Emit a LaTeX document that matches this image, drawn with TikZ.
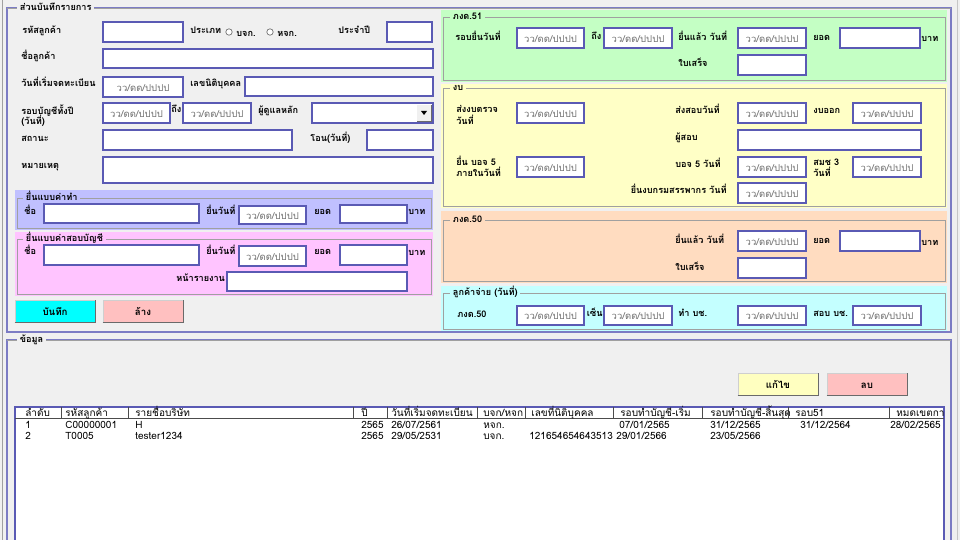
\documentclass[tikz,border=0pt]{standalone}
\usepackage{fontspec}
\setmainfont[Script=Thai]{Loma}
\usetikzlibrary{fit}

\definecolor{winbg}{HTML}{F0F0F0}
\definecolor{frameline}{HTML}{A0A0A0}
\definecolor{edgeline}{HTML}{7C7CC4}
\definecolor{fieldline}{HTML}{5A5AB4}
\definecolor{hintgray}{HTML}{707070}
\definecolor{paneltax}{HTML}{C0C0FF}
\definecolor{panelaudit}{HTML}{FFC4FF}
\definecolor{panelgreen}{HTML}{C4FFC4}
\definecolor{panelyellow}{HTML}{FFFFC6}
\definecolor{panelpeach}{HTML}{FFDCC0}
\definecolor{panelcyan}{HTML}{C4FFFF}
\definecolor{btncyan}{HTML}{00FFFF}
\definecolor{btnpink}{HTML}{FFC0C0}
\definecolor{btnyellow}{HTML}{FFFFC0}
\definecolor{btnshade}{HTML}{6A6A6A}

\begin{document}
\begin{tikzpicture}[x=0.02cm, y=-0.02cm,
    every node/.style={inner sep=0pt, text height=5.6pt, text depth=1pt,
      font=\fontsize{5.5}{6.6}\selectfont},
    lbl/.style={anchor=west, font=\fontsize{5.2}{6.2}\selectfont\bfseries},
    gtitle/.style={anchor=west, inner xsep=1.5pt, text height=4pt, text depth=1pt,
      font=\fontsize{5.2}{6.2}\selectfont\bfseries},
    hint/.style={text=hintgray, font=\fontsize{5.4}{6.4}\selectfont},
    field/.style={draw=fieldline, fill=white, line width=0.6pt},
    datebox/.style={field, label={[hint]center:วว/ดด/ปปปป}},
    gframe/.style={draw=frameline, line width=0.5pt},
    btn/.style={draw=frameline!50, line width=0.5pt},
    btntext/.style={font=\fontsize{5.5}{6.6}\selectfont\bfseries},
    cell/.style={anchor=west, font=\fontsize{5.7}{6.8}\selectfont},
    radio/.style={draw=black!55, fill=white, line width=0.4pt}]

  % window
  \fill[winbg] (0,0) rectangle (960,540);
  \useasboundingbox (0,0) rectangle (960,540);
  \draw[frameline, line width=0.4pt] (2,0) -- (2,540);
  \draw[frameline!60, line width=0.4pt] (957,0) -- (957,540);

  % upper group: ส่วนบันทึกรายการ
  \draw[edgeline, line width=0.6pt] (7,8) rectangle (951,332);
  \draw[frameline, line width=0.5pt] (7,8) -- (951,8);
  \node[gtitle, fill=winbg] (recordtitle) at (17,8) {ส่วนบันทึกรายการ};

  \node[lbl] (custcodelbl) at (22,29) {รหัสลูกค้า};
  \node[field, fit={(103,22) (183,42)}] (custcode) {};
  \node[lbl] (typelbl) at (190,29) {ประเภท};
  \draw[radio] (229,32) circle (3.2);
  \node[lbl] (typeco) at (236,32) {บจก.};
  \draw[radio] (270,32) circle (3.2);
  \node[lbl] (typepart) at (277,32) {หจก.};
  \node[lbl] (yearlbl) at (338,29) {ประจำปี};
  \node[field, fit={(387,22) (432,42)}] (year) {};

  \node[lbl] (custnamelbl) at (21,55) {ชื่อลูกค้า};
  \node[field, fit={(103,49) (433,68)}] (custname) {};

  \node[lbl] (regdatelbl) at (21,82) {วันที่เริ่มจดทะเบียน};
  \node[datebox, fit={(103,77) (183,97)}] (regdate) {};
  \node[lbl] (taxidlbl) at (190,82) {เลขนิติบุคคล};
  \node[field, fit={(245,77) (433,96)}] (taxid) {};

  \node[lbl] (periodlbl) at (21,110) {รอบบัญชีทั้งปี};
  \node[lbl] (periodlbltwo) at (21,120) {(วันที่)};
  \node[datebox, fit={(103,103) (170,123)}] (periodfrom) {};
  \node[lbl] (periodto) at (171,108) {ถึง};
  \node[datebox, fit={(183,103) (251,123)}] (periodend) {};
  \node[lbl] (managerlbl) at (258,109) {ผู้ดูแลหลัก};
  \node[field, fit={(312,103) (433,123)}] (manager) {};
  \fill[winbg] (417,105) rectangle (431,121);
  \draw[btnshade, line width=0.4pt] (417,121) -- (431,121) -- (431,105);
  \fill[black] (421,111) -- (427,111) -- (424,115) -- cycle;

  \node[lbl] (statuslbl) at (21,137) {สถานะ};
  \node[field, fit={(103,130) (292,150)}] (status) {};
  \node[lbl] (transferlbl) at (310,137) {โอน(วันที่)};
  \node[field, fit={(367,130) (433,150)}] (transfer) {};

  \node[lbl] (notelbl) at (21,164) {หมายเหตุ};
  \node[field, fit={(103,157) (433,183)}] (note) {};

  % ยื่นแบบค่าทำ
  \fill[paneltax] (15,190) rectangle (433,230);
  \draw[gframe] (17,198) rectangle (431,228);
  \node[gtitle, fill=paneltax] (taxtitle) at (23,198) {ยื่นแบบค่าทำ};
  \node[lbl] (taxnamelbl) at (24,210) {ชื่อ};
  \node[field, fit={(44,204) (199,223)}] (taxname) {};
  \node[lbl] (taxdatelbl) at (206,210) {ยื่นวันที่};
  \node[datebox, fit={(239,206) (306,224)}] (taxdate) {};
  \node[lbl] (taxsumlbl) at (314,210) {ยอด};
  \node[field, fit={(340,205) (407,223)}] (taxsum) {};
  \node[lbl] (taxbaht) at (408,210) {บาท};

  % ยื่นแบบค่าสอบบัญชี
  \fill[panelaudit] (15,232) rectangle (433,296);
  \draw[gframe] (17,239) rectangle (431,294);
  \node[gtitle, fill=panelaudit] (audittitle) at (23,239) {ยื่นแบบค่าสอบบัญชี};
  \node[lbl] (auditnamelbl) at (24,250) {ชื่อ};
  \node[field, fit={(44,245) (199,265)}] (auditname) {};
  \node[lbl] (auditdatelbl) at (206,250) {ยื่นวันที่};
  \node[datebox, fit={(239,246) (306,266)}] (auditdate) {};
  \node[lbl] (auditsumlbl) at (314,250) {ยอด};
  \node[field, fit={(340,245) (407,265)}] (auditsum) {};
  \node[lbl] (auditbaht) at (408,251) {บาท};
  \node[lbl] (reportlbl) at (176,277) {หน้ารายงาน};
  \node[field, fit={(227,272) (407,291)}] (report) {};

  % buttons
  \node[btn, fill=btncyan, fit={(15,300) (95,322)},
        label={[btntext]center:บันทึก}] (save) {};
  \node[btn, fill=btnpink, fit={(103,300) (183,322)},
        label={[btntext]center:ล้าง}] (clear) {};

  % ภงด.51
  \fill[panelgreen] (441,10) rectangle (947,82);
  \draw[gframe] (443,17) rectangle (945,80);
  \node[gtitle, fill=panelgreen] (pnd51title) at (450,17) {ภงด.51};
  \node[lbl] (pnd51duelbl) at (455,36) {รอบยื่นวันที่};
  \node[datebox, fit={(517,28) (584,48)}] (pnd51from) {};
  \node[lbl] (pnd51to) at (591,35) {ถึง};
  \node[datebox, fit={(604,28) (672,48)}] (pnd51end) {};
  \node[lbl] (pnd51filedlbl) at (678,36) {ยื่นแล้ว วันที่};
  \node[datebox, fit={(738,28) (806,48)}] (pnd51filed) {};
  \node[lbl] (pnd51sumlbl) at (813,36) {ยอด};
  \node[field, fit={(840,28) (920,48)}] (pnd51sum) {};
  \node[lbl] (pnd51baht) at (921,37) {บาท};
  \node[lbl] (pnd51rcptlbl) at (678,62) {ใบเสร็จ};
  \node[field, fit={(738,55) (806,75)}] (pnd51rcpt) {};

  % งบ
  \fill[panelyellow] (441,84) rectangle (947,208);
  \draw[gframe] (443,88) rectangle (945,206);
  \node[gtitle, fill=panelyellow] (fstitle) at (450,88) {งบ};
  \node[lbl] (fschecklbl) at (456,108) {ส่งงบตรวจ};
  \node[lbl] (fschecklbltwo) at (456,120) {วันที่};
  \node[datebox, fit={(517,103) (584,123)}] (fscheck) {};
  \node[lbl] (fsauditlbl) at (675,109) {ส่งสอบวันที่};
  \node[datebox, fit={(738,103) (806,123)}] (fsaudit) {};
  \node[lbl] (fsoutlbl) at (813,109) {งบออก};
  \node[datebox, fit={(853,103) (921,123)}] (fsout) {};
  \node[lbl] (auditorlbl) at (675,136) {ผู้สอบ};
  \node[field, fit={(738,130) (921,150)}] (auditor) {};
  \node[lbl] (bojduelbl) at (456,161) {ยื่น บอจ 5};
  \node[lbl] (bojduelbltwo) at (456,172) {ภายในวันที่};
  \node[datebox, fit={(517,157) (584,177)}] (bojdue) {};
  \node[lbl] (bojlbl) at (675,163) {บอจ 5 วันที่};
  \node[datebox, fit={(738,157) (806,177)}] (boj) {};
  \node[lbl] (smchlbl) at (813,161) {สมช 3};
  \node[lbl] (smchlbltwo) at (813,172) {วันที่};
  \node[datebox, fit={(853,157) (921,177)}] (smch) {};
  \node[lbl, anchor=east] (rdlbl) at (727,189) {ยื่นงบกรมสรรพากร วันที่};
  \node[datebox, fit={(738,183) (806,203)}] (rd) {};

  % ภงด.50
  \fill[panelpeach] (441,211) rectangle (947,283);
  \draw[gframe] (443,220) rectangle (945,281);
  \node[gtitle, fill=panelpeach] (pnd50title) at (450,220) {ภงด.50};
  \node[lbl] (pnd50filedlbl) at (675,239) {ยื่นแล้ว วันที่};
  \node[datebox, fit={(738,231) (806,251)}] (pnd50filed) {};
  \node[lbl] (pnd50sumlbl) at (813,239) {ยอด};
  \node[field, fit={(840,231) (920,251)}] (pnd50sum) {};
  \node[lbl] (pnd50baht) at (921,241) {บาท};
  \node[lbl] (pnd50rcptlbl) at (675,266) {ใบเสร็จ};
  \node[field, fit={(738,258) (806,278)}] (pnd50rcpt) {};

  % ลูกค้าจ่าย (วันที่)
  \fill[panelcyan] (441,286) rectangle (947,331);
  \draw[gframe] (443,293) rectangle (945,329);
  \node[gtitle, fill=panelcyan] (paytitle) at (450,293) {ลูกค้าจ่าย (วันที่)};
  \node[lbl] (paypndlbl) at (457,313) {ภงด.50};
  \node[lbl, anchor=east] (paysignlbl) at (603,312) {เซ็น};
  \node[datebox, fit={(517,306) (584,325)}] (paypnd) {};
  \node[datebox, fit={(604,306) (672,325)}] (paysign) {};
  \node[lbl] (paybooklbl) at (678,312) {ทำ บช.};
  \node[datebox, fit={(738,306) (806,325)}] (paybook) {};
  \node[lbl] (payauditlbl) at (813,312) {สอบ บช.};
  \node[datebox, fit={(853,306) (921,325)}] (payaudit) {};

  % lower group: ข้อมูล
  \draw[edgeline, line width=0.6pt] (7,548) -- (7,340) -- (951,340) -- (951,548);
  \draw[frameline, line width=0.5pt] (7,340) -- (951,340);
  \node[gtitle, fill=winbg] (datatitle) at (17,340) {ข้อมูล};

  \node[btn, fill=btnyellow, fit={(738,373) (818,395)},
        label={[btntext]center:แก้ไข}] (edit) {};
  \node[btn, fill=btnpink, fit={(827,373) (907,395)},
        label={[btntext]center:ลบ}] (delete) {};

  % button shading
  \foreach \b in {save, clear, edit, delete}
    \draw[btnshade, line width=0.8pt] (\b.south west) -- (\b.south east) -- (\b.north east);

  % list
  \draw[fieldline, fill=white, line width=0.6pt] (15,548) -- (15,407) -- (944,407) -- (944,548);
  \draw[black!70, line width=0.4pt] (15,418) -- (944,418);
  \foreach \sx in {61,128,353,387,477,525,613,702,788,889}
    \draw[black!70, line width=0.4pt] (\sx,407) -- (\sx,418);

  \node[cell] (hno) at (25,412.5) {ลำดับ};
  \node[cell] (hcode) at (65,412.5) {รหัสลูกค้า};
  \node[cell] (hname) at (135,412.5) {รายชื่อบริษัท};
  \node[cell] (hyear) at (361,412.5) {ปี};
  \node[cell] (hreg) at (391,412.5) {วันที่เริ่มจดทะเบียน};
  \node[cell] (htype) at (483,412.5) {บจก/หจก};
  \node[cell] (htaxid) at (531,412.5) {เลขที่นิติบุคคล};
  \node[cell] (hstart) at (620,412.5) {รอบทำบัญชี-เริ่ม};
  \node[cell] (hend) at (710,412.5) {รอบทำบัญชี-สิ้นสุด};
  \node[cell] (h51) at (795,412.5) {รอบ51};
  \begin{scope}
    \clip (889,407) rectangle (943,418);
    \node[cell] (hdue) at (896,412.5) {หมดเขตการยื่};
  \end{scope}

  \node[cell] (r1no) at (25,424) {1};
  \node[cell] (r1code) at (65,424) {C00000001};
  \node[cell] (r1name) at (135,424) {H};
  \node[cell] (r1year) at (361,424) {2565};
  \node[cell] (r1reg) at (391,424) {26/07/2561};
  \node[cell] (r1type) at (483,424) {หจก.};
  \node[cell] (r1start) at (619,424) {07/01/2565};
  \node[cell] (r1end) at (710,424) {31/12/2565};
  \node[cell] (r151) at (800,424) {31/12/2564};
  \node[cell] (r1due) at (890,424) {28/02/2565};

  \node[cell] (r2no) at (25,435) {2};
  \node[cell] (r2code) at (65,435) {T0005};
  \node[cell] (r2name) at (135,435) {tester1234};
  \node[cell] (r2year) at (361,435) {2565};
  \node[cell] (r2reg) at (391,435) {29/05/2531};
  \node[cell] (r2type) at (483,435) {บจก.};
  \node[cell] (r2taxid) at (529,435) {121654654643513};
  \node[cell] (r2start) at (616,435) {29/01/2566};
  \node[cell] (r2end) at (710,435) {23/05/2566};
\end{tikzpicture}
\end{document}
